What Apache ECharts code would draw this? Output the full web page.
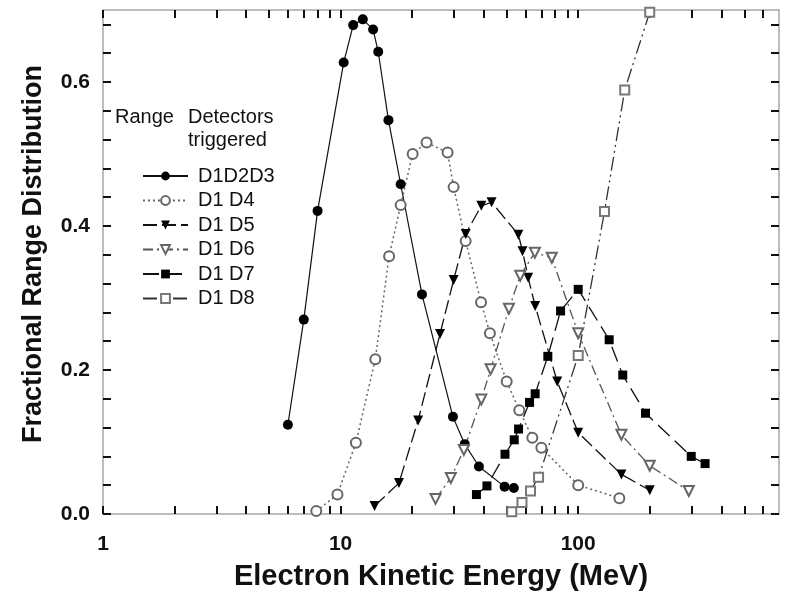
<!DOCTYPE html>
<html>
<head>
<meta charset="utf-8">
<title>Fractional Range Distribution</title>
<script src="https://cdn.jsdelivr.net/npm/echarts@6/dist/echarts.min.js"></script>
<style>
  html, body { margin: 0; padding: 0; background: #fff; }
  #chart { width: 785px; height: 598px; }
</style>
</head>
<body>
<div id="chart"></div>
<script>
// values: energy (MeV) and fractional range distribution
const seriesNames = ['D1D2D3', 'D1 D4', 'D1 D5', 'D1 D6', 'D1 D7', 'D1 D8']

const energyD123 = [6.0, 7.0, 8.0, 10.3, 11.3, 12.4, 13.7, 14.4, 15.9, 17.9, 22.0, 29.7, 33.3, 38.2, 49.0, 53.6]
const fracD123 = [0.124, 0.270, 0.421, 0.627, 0.679, 0.687, 0.673, 0.642, 0.547, 0.458, 0.305, 0.135, 0.097, 0.066, 0.038, 0.036]

const energyD4 = [7.9, 9.7, 11.6, 14.0, 16.0, 17.9, 20.1, 23.0, 28.2, 29.9, 33.6, 39.0, 42.5, 50.0, 56.5, 64.1, 70.0, 100, 149]
const fracD4 = [0.004, 0.027, 0.099, 0.215, 0.358, 0.429, 0.500, 0.516, 0.502, 0.454, 0.379, 0.294, 0.251, 0.184, 0.144, 0.106, 0.092, 0.040, 0.022]

const energyD5 = [13.9, 17.6, 21.2, 26.2, 29.9, 33.6, 39.1, 43.2, 56.0, 58.3, 61.6, 65.9, 81.6, 100, 152, 200]
const fracD5 = [0.011, 0.043, 0.130, 0.250, 0.325, 0.389, 0.428, 0.433, 0.388, 0.365, 0.328, 0.289, 0.184, 0.113, 0.055, 0.033]

const energyD6 = [25.1, 29.1, 33.0, 39.1, 42.8, 51.1, 57.0, 65.7, 77.4, 100, 152, 200, 292]
const fracD6 = [0.021, 0.050, 0.089, 0.159, 0.201, 0.285, 0.331, 0.363, 0.356, 0.251, 0.110, 0.067, 0.032]

const energyD7 = [37.3, 41.3, 49.2, 53.8, 56.1, 62.4, 65.9, 74.5, 84.3, 100, 135, 154, 192, 299, 342]
const fracD7 = [0.027, 0.039, 0.083, 0.103, 0.118, 0.155, 0.167, 0.219, 0.282, 0.312, 0.242, 0.193, 0.140, 0.080, 0.070]

const energyD8 = [52.5, 58.0, 63.0, 68.1, 100, 129, 157, 200]
const fracD8 = [0.003, 0.016, 0.032, 0.051, 0.220, 0.420, 0.589, 0.697]

// axis ticks and labels
const xTickValues = [1, 2, 3, 4, 5, 6, 7, 8, 9, 10, 20, 30, 40, 50, 60, 70, 80, 90, 100, 200, 300, 400, 500, 600]
const xLabelValues = [1, 10, 100]
const yTickValues = [0, 0.04, 0.08, 0.12, 0.16, 0.2, 0.24, 0.28, 0.32, 0.36, 0.4, 0.44, 0.48, 0.52, 0.56, 0.6, 0.64, 0.68]
const yLabelValues = [0, 0.2, 0.4, 0.6]

const FONT = "'Liberation Sans', Arial, sans-serif"

function pairs(xs, ys) {
  return xs.map((x, i) => [x, ys[i]])
}

function lineSeries(name, xs, ys, opts) {
  return {
    name: name,
    type: 'line',
    xAxisIndex: 0,
    yAxisIndex: 0,
    data: pairs(xs, ys),
    clip: false,
    showAllSymbol: true,
    symbol: opts.symbol,
    symbolSize: opts.size || 10,
    symbolRotate: opts.rotate || 0,
    itemStyle: {
      color: opts.mark,
      borderWidth: 1.2
    },
    lineStyle: {
      color: opts.line,
      width: opts.width || 1.3,
      type: opts.dash
    },
    emphasis: { disabled: true },
    z: 3
  }
}

const axisLineStyle = { color: '#a8a8a8', width: 1.5 }
const tickStyle = { color: '#111', width: 2 }

const chart = echarts.init(document.getElementById('chart'))

chart.setOption({
  backgroundColor: '#ffffff',
  animation: false,
  grid: {
    left: 103,
    right: 6,
    top: 10,
    bottom: 84,
    outerBoundsMode: 'none'
  },
  legend: {
    orient: 'vertical',
    left: 137,
    top: 161,
    itemWidth: 45,
    itemHeight: 11,
    itemGap: 4.5,
    selectedMode: false,
    textStyle: {
      fontFamily: FONT,
      fontSize: 20,
      color: '#111',
      lineHeight: 20,
      padding: [0, 0, 0, 5]
    },
    data: seriesNames
  },
  graphic: [
    {
      type: 'text', left: 115, top: 107,
      style: { text: 'Range', font: "20px 'Liberation Sans', Arial, sans-serif", fill: '#111' }
    },
    {
      type: 'text', left: 188, top: 107,
      style: { text: 'Detectors', font: "20px 'Liberation Sans', Arial, sans-serif", fill: '#111' }
    },
    {
      type: 'text', left: 188, top: 130,
      style: { text: 'triggered', font: "20px 'Liberation Sans', Arial, sans-serif", fill: '#111' }
    }
  ],
  xAxis: [
    {
      type: 'log',
      logBase: 10,
      min: 1,
      max: 700,
      position: 'bottom',
      name: 'Electron Kinetic Energy (MeV)',
      nameLocation: 'middle',
      nameGap: 48,
      nameTextStyle: { fontFamily: FONT, fontSize: 29, fontWeight: 'bold', color: '#111' },
      axisLine: { onZero: false, lineStyle: axisLineStyle },
      axisTick: { inside: true, length: 8, lineStyle: tickStyle, customValues: xTickValues },
      axisLabel: {
        customValues: xLabelValues,
        margin: 20,
        fontFamily: FONT,
        fontSize: 21,
        fontWeight: 'bold',
        color: '#111',
        formatter: function (v) { return String(Math.round(v)) }
      },
      splitLine: { show: false }
    },
    {
      type: 'log',
      logBase: 10,
      min: 1,
      max: 700,
      position: 'top',
      axisLine: { onZero: false, lineStyle: axisLineStyle },
      axisTick: { inside: true, length: 8, lineStyle: tickStyle, customValues: xTickValues },
      axisLabel: { show: false },
      splitLine: { show: false }
    }
  ],
  yAxis: [
    {
      type: 'value',
      min: 0,
      max: 0.7,
      position: 'left',
      name: 'Fractional Range Distribution',
      nameLocation: 'middle',
      nameGap: 56,
      nameTextStyle: { fontFamily: FONT, fontSize: 27, fontWeight: 'bold', color: '#111', padding: [0, 0, 0, 16] },
      axisLine: { show: true, onZero: false, lineStyle: axisLineStyle },
      axisTick: { show: true, inside: true, length: 8, lineStyle: tickStyle, customValues: yTickValues },
      axisLabel: {
        customValues: yLabelValues,
        margin: 13,
        fontFamily: FONT,
        fontSize: 21,
        fontWeight: 'bold',
        color: '#111',
        formatter: function (v) { return v.toFixed(1) }
      },
      splitLine: { show: false }
    },
    {
      type: 'value',
      min: 0,
      max: 0.7,
      position: 'right',
      axisLine: { show: true, onZero: false, lineStyle: axisLineStyle },
      axisTick: { show: true, inside: true, length: 8, lineStyle: tickStyle, customValues: yTickValues },
      axisLabel: { show: false },
      splitLine: { show: false }
    }
  ],
  series: [
    lineSeries('D1D2D3', energyD123, fracD123, {
      symbol: 'circle', mark: '#000', line: '#111', dash: 'solid', width: 1.2
    }),
    lineSeries('D1 D4', energyD4, fracD4, {
      symbol: 'emptyCircle', mark: '#666', line: '#666', dash: [2, 3], width: 1.5
    }),
    lineSeries('D1 D5', energyD5, fracD5, {
      symbol: 'triangle', rotate: 180, mark: '#000', line: '#111', dash: [14, 5]
    }),
    lineSeries('D1 D6', energyD6, fracD6, {
      symbol: 'emptyTriangle', rotate: 180, mark: '#666', line: '#555', dash: [10, 4, 2, 4]
    }),
    lineSeries('D1 D7', energyD7, fracD7, {
      symbol: 'rect', size: 9, mark: '#000', line: '#111', dash: [16, 7]
    }),
    lineSeries('D1 D8', energyD8, fracD8, {
      symbol: 'emptyRect', size: 9, mark: '#777', line: '#333', dash: [14, 4, 2, 4, 2, 4]
    })
  ]
})
</script>
</body>
</html>
